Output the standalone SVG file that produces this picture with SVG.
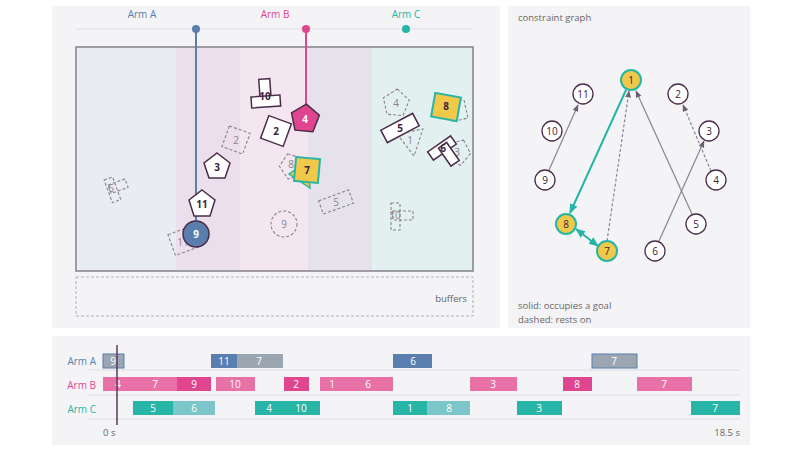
<svg xmlns="http://www.w3.org/2000/svg" width="800" height="450" viewBox="0 0 800 450">
<defs>
<style>
text{font-family:"Open Sans","Liberation Sans",sans-serif}
.pc{fill:#fff;stroke:#4b2d4b;stroke-width:1.5}
.gh{fill:none;stroke:#8d8289;stroke-width:1.1;stroke-dasharray:3 2}
.lb{font-size:10px;font-weight:bold;fill:#3a2440;text-anchor:middle;dominant-baseline:central}
.gl{font-size:10px;fill:#8d8289;text-anchor:middle;dominant-baseline:central}
.gn{fill:#fff;stroke:#4b2d4b;stroke-width:1.3}
.gt{font-size:10px;fill:#3a2440;text-anchor:middle;dominant-baseline:central}
.bt{font-size:10px;fill:#fff;text-anchor:middle;dominant-baseline:central}
.sm{font-size:9.5px;fill:#666}
</style>
<marker id="ag" viewBox="0 0 10 10" refX="9" refY="5" markerWidth="6" markerHeight="6" orient="auto-start-reverse"><path d="M0,1 L10,5 L0,9 z" fill="#6f5f73"/></marker>
<marker id="at" viewBox="0 0 10 10" refX="9" refY="5" markerWidth="5" markerHeight="5" orient="auto-start-reverse"><path d="M0,1 L10,5 L0,9 z" fill="#26b5a6"/></marker>
</defs>
<rect width="800" height="450" fill="#fff"/>
<rect x="52" y="6" width="448" height="322" fill="#f4f4f7"/>
<rect x="508" y="6" width="242" height="322" fill="#f4f4f7"/>
<rect x="52" y="336" width="698" height="109" fill="#f4f4f7"/>

<g id="workspace">
<rect x="76" y="47" width="100" height="224" fill="#e9ecf3"/>
<rect x="176" y="47" width="64" height="224" fill="#eadfea"/>
<rect x="240" y="47" width="68" height="224" fill="#f4e6ef"/>
<rect x="308" y="47" width="64" height="224" fill="#e6e2eb"/>
<rect x="372" y="47" width="101" height="224" fill="#e3f0f0"/>
<rect x="76" y="47" width="397" height="224" fill="none" stroke="#85808a" stroke-width="1.5"/>
<rect x="76" y="277" width="397" height="39" fill="none" stroke="#b5b0b8" stroke-dasharray="3 2"/>
<text x="467" y="302" class="sm" text-anchor="end">buffers</text>
</g>

<g id="arms">
<line x1="76" y1="29" x2="473" y2="29" stroke="#e6e6ea" stroke-width="1.5"/>
<text x="142" y="18" font-size="10" fill="#5a7fae" text-anchor="middle">Arm A</text>
<text x="275" y="18" font-size="10" fill="#e0468f" text-anchor="middle">Arm B</text>
<text x="406" y="18" font-size="10" fill="#26b5a6" text-anchor="middle">Arm C</text>
<line x1="196" y1="29" x2="196" y2="222" stroke="#5a7fae" stroke-width="2"/>
<circle cx="196" cy="29" r="4" fill="#5a7fae"/>
<line x1="306" y1="29" x2="306" y2="107" stroke="#e0468f" stroke-width="2"/>
<circle cx="306" cy="29" r="4" fill="#e0468f"/>
<circle cx="406" cy="29" r="4" fill="#26b5a6"/>
</g>

<g id="ghosts">
<g transform="translate(236,140) rotate(20)"><rect x="-11" y="-11" width="22" height="22" class="gh"/></g><text x="236" y="140" class="gl">2</text>
<g transform="translate(112,190) rotate(-20)"><rect x="-4" y="-12" width="9" height="24" class="gh"/><rect x="-2" y="-6" width="18" height="9" class="gh"/></g><text x="111" y="188" class="gl">6</text>
<g transform="translate(183,241) rotate(-20)"><rect x="-12" y="-11" width="24" height="22" class="gh"/></g><text x="183" y="242" class="gl">11</text>
<circle cx="284" cy="224" r="13" class="gh"/><text x="284" y="224" class="gl">9</text>
<g transform="translate(292,166) rotate(-20)"><polygon points="0,-13 12,-4 8,11 -8,11 -12,-4" class="gh"/></g><text x="291" y="164" class="gl">8</text>
<g transform="translate(336,202) rotate(-20)"><rect x="-16" y="-7" width="32" height="14" class="gh"/></g><text x="336" y="202" class="gl">5</text>
<g transform="translate(396,103) rotate(5)"><polygon points="0,-14 13,-4 8,12 -8,12 -13,-4" class="gh"/></g><text x="396" y="103" class="gl">4</text>
<polygon points="397,134 423,129 414,156" class="gh"/><text x="410" y="140" class="gl">1</text>
<polygon points="449,100 464,100 468,118 452,122" class="gh"/>
<g transform="translate(458,152) rotate(25)"><polygon points="0,-13 12,-4 8,11 -8,11 -12,-4" class="gh"/></g><text x="457" y="152" class="gl">3</text>
<g transform="translate(396,216)"><rect x="-5" y="-13" width="9" height="27" class="gh"/><rect x="-3" y="-5" width="20" height="9" class="gh"/></g><text x="395" y="215" class="gl">10</text>
</g>

<g id="pieces">
<g id="p10" transform="translate(265,97) rotate(-4)"><rect x="-5" y="-18" width="11" height="24" class="pc"/><rect x="-14" y="-1" width="29" height="11" class="pc"/></g><text x="265" y="96" class="lb">10</text>
<g id="p2" transform="translate(276,131) rotate(20)"><rect x="-12" y="-12" width="24" height="24" class="pc"/></g><text x="276" y="131" class="lb">2</text>
<g id="p4" transform="translate(305,119) rotate(5)"><polygon points="0,-15 14,-5 9,12 -9,12 -14,-5" fill="#e0468f" stroke="#4b2d4b" stroke-width="1.5"/></g><text x="305" y="119" class="lb" fill="#fff" style="fill:#fff">4</text>
<g id="p3"><polygon points="217,153 230,163 225,178 209,178 204,163" class="pc"/><text x="217" y="167" class="lb">3</text></g>
<g id="p7"><polygon points="289,174 307,161 310,188" fill="#f0c84a" stroke="#26b5a6" stroke-width="1.5"/><g transform="translate(307,170) rotate(5)"><rect x="-12" y="-12" width="24" height="24" fill="#f0c84a" stroke="#26b5a6" stroke-width="2"/></g><text x="307" y="170" class="lb">7</text></g>
<g id="p11"><polygon points="202,190 215,200 210,216 194,216 189,200" class="pc"/><text x="202" y="204" class="lb">11</text></g>
<g id="p9"><circle cx="196" cy="234" r="13" fill="#5a7fae" stroke="#4b2d4b" stroke-width="1.5"/><text x="196" y="234" class="lb" style="fill:#fff">9</text></g>
<g id="p8" transform="translate(446,107) rotate(10)"><rect x="-13" y="-12" width="26" height="24" fill="#f0c84a" stroke="#26b5a6" stroke-width="2"/></g><text x="446" y="106" class="lb">8</text>
<g id="p5" transform="translate(400,128) rotate(-28)"><rect x="-18" y="-7" width="36" height="14" class="pc"/></g><text x="400" y="128" class="lb">5</text>
<g id="p6" transform="translate(442,148) rotate(-35)"><rect x="-14" y="-5" width="28" height="10" class="pc"/><rect x="-3" y="-2" width="10" height="22" class="pc" transform="rotate(0)"/></g><text x="443" y="148" class="lb">6</text>
</g>

<g id="graph">
<text x="518" y="21" class="sm">constraint graph</text>
<text x="518" y="309" class="sm">solid: occupies a goal</text>
<text x="518" y="323" class="sm">dashed: rests on</text>
<g id="edges">
<line x1="549" y1="170" x2="578" y2="105" stroke="#8a8590" stroke-width="1.2" marker-end="url(#ag)"/>
<line x1="626" y1="90" x2="570" y2="213" stroke="#26b5a6" stroke-width="2" marker-end="url(#at)"/>
<line x1="576" y1="229" x2="598" y2="246" stroke="#26b5a6" stroke-width="2" marker-start="url(#at)" marker-end="url(#at)"/>
<line x1="607" y1="241" x2="629" y2="91" stroke="#8a8590" stroke-width="1.2" stroke-dasharray="3 2" marker-end="url(#ag)"/>
<line x1="692" y1="214" x2="636" y2="91" stroke="#8a8590" stroke-width="1.2" marker-end="url(#ag)"/>
<line x1="659" y1="241" x2="704" y2="141" stroke="#8a8590" stroke-width="1.2" marker-end="url(#ag)"/>
<line x1="711" y1="171" x2="683" y2="105" stroke="#8a8590" stroke-width="1.2" stroke-dasharray="3 2" marker-end="url(#ag)"/>
</g>
<g id="n1"><circle cx="631" cy="80" r="10" fill="#f0c84a" stroke="#26b5a6" stroke-width="2"/><text x="631" y="80" class="gt">1</text></g>
<g id="n11"><circle cx="583" cy="94" r="10" class="gn"/><text x="583" y="94" class="gt">11</text></g>
<g id="n2"><circle cx="678" cy="94" r="10" class="gn"/><text x="678" y="94" class="gt">2</text></g>
<g id="n10"><circle cx="552" cy="131" r="10" class="gn"/><text x="552" y="131" class="gt">10</text></g>
<g id="n3"><circle cx="709" cy="131" r="10" class="gn"/><text x="709" y="131" class="gt">3</text></g>
<g id="n9"><circle cx="545" cy="180" r="10" class="gn"/><text x="545" y="180" class="gt">9</text></g>
<g id="n4"><circle cx="716" cy="180" r="10" class="gn"/><text x="716" y="180" class="gt">4</text></g>
<g id="n8"><circle cx="566" cy="224" r="10" fill="#f0c84a" stroke="#26b5a6" stroke-width="2"/><text x="566" y="224" class="gt">8</text></g>
<g id="n5"><circle cx="696" cy="224" r="10" class="gn"/><text x="696" y="224" class="gt">5</text></g>
<g id="n7"><circle cx="607" cy="251" r="10" fill="#f0c84a" stroke="#26b5a6" stroke-width="2"/><text x="607" y="251" class="gt">7</text></g>
<g id="n6"><circle cx="655" cy="251" r="10" class="gn"/><text x="655" y="251" class="gt">6</text></g>
</g>

<g id="timeline">
<line x1="89" y1="370" x2="740" y2="370" stroke="#e4e4ea" stroke-width="1.5"/>
<line x1="89" y1="395" x2="740" y2="395" stroke="#e4e4ea" stroke-width="1.5"/>
<line x1="89" y1="419" x2="740" y2="419" stroke="#e4e4ea" stroke-width="1.5"/>
<text x="96" y="365" font-size="10" fill="#5a7fae" text-anchor="end">Arm A</text>
<text x="96" y="389" font-size="10" fill="#e0468f" text-anchor="end">Arm B</text>
<text x="96" y="413" font-size="10" fill="#26b5a6" text-anchor="end">Arm C</text>
<rect x="103" y="354" width="21" height="14" fill="#9ba6b1" stroke="#5a7fae"/><text x="113" y="361" class="bt">9</text>
<rect x="211" y="354" width="26" height="14" fill="#5a7fae"/><text x="224" y="361" class="bt">11</text>
<rect x="237" y="354" width="46" height="14" fill="#9ba6b1"/><text x="259" y="361" class="bt">7</text>
<rect x="393" y="354" width="39" height="14" fill="#5a7fae"/><text x="413" y="361" class="bt">6</text>
<rect x="592" y="354" width="45" height="14" fill="#9ba6b1" stroke="#5a7fae"/><text x="614" y="361" class="bt">7</text>
<rect x="103" y="377" width="74" height="14" fill="#e872a8"/><text x="118" y="384" class="bt">4</text><text x="155" y="384" class="bt">7</text>
<rect x="177" y="377" width="34" height="14" fill="#e0468f"/><text x="194" y="384" class="bt">9</text>
<rect x="216" y="377" width="39" height="14" fill="#e872a8"/><text x="235" y="384" class="bt">10</text>
<rect x="284" y="377" width="25" height="14" fill="#e0468f"/><text x="296" y="384" class="bt">2</text>
<rect x="320" y="377" width="73" height="14" fill="#e872a8"/><text x="332" y="384" class="bt">1</text><text x="368" y="384" class="bt">6</text>
<rect x="470" y="377" width="47" height="14" fill="#e872a8"/><text x="493" y="384" class="bt">3</text>
<rect x="563" y="377" width="29" height="14" fill="#e0468f"/><text x="577" y="384" class="bt">8</text>
<rect x="637" y="377" width="55" height="14" fill="#e872a8"/><text x="664" y="384" class="bt">7</text>
<rect x="133" y="401" width="40" height="14" fill="#26b5a6"/><text x="153" y="408" class="bt">5</text>
<rect x="173" y="401" width="42" height="14" fill="#7cc6c9"/><text x="194" y="408" class="bt">6</text>
<rect x="255" y="401" width="65" height="14" fill="#26b5a6"/><text x="269" y="408" class="bt">4</text><text x="301" y="408" class="bt">10</text>
<rect x="393" y="401" width="34" height="14" fill="#26b5a6"/><text x="410" y="408" class="bt">1</text>
<rect x="427" y="401" width="43" height="14" fill="#7cc6c9"/><text x="449" y="408" class="bt">8</text>
<rect x="517" y="401" width="45" height="14" fill="#26b5a6"/><text x="539" y="408" class="bt">3</text>
<rect x="691" y="401" width="49" height="14" fill="#26b5a6"/><text x="715" y="408" class="bt">7</text>
<line x1="117" y1="345" x2="117" y2="425" stroke="#5a3a5e" stroke-width="1.5"/>
<text x="103" y="436" class="sm">0 s</text>
<text x="740" y="436" class="sm" text-anchor="end">18.5 s</text>
</g>
</svg>
